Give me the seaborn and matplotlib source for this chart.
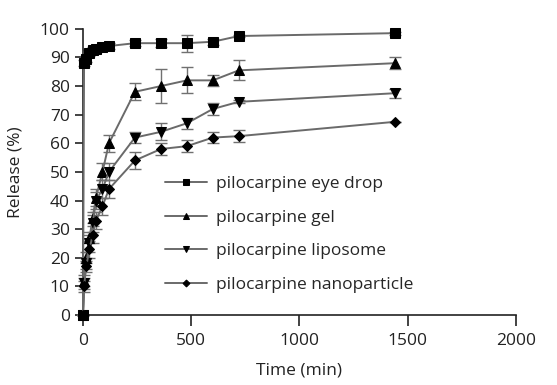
import matplotlib
matplotlib.use("Agg")
import matplotlib.pyplot as plt
import seaborn as sns
import numpy as np

# release data
times = [0, 5, 15, 30, 45, 60, 90, 120, 240, 360, 480, 600, 720, 1440]

eye_drop = [0, 88, 89.5, 91.5, 92.5, 93, 93.5, 94, 95, 95, 95, 95.5, 97.5, 98.5]
eye_drop_err = [0, 1, 1, 1, 1, 1, 1, 1, 1, 1.5, 3, 1, 0.5, 0.5]

gel = [0, 12, 20, 27, 34, 41, 50, 60, 78, 80, 82, 82, 85.5, 88]
gel_err = [0, 2, 2, 2, 2, 3, 3, 3, 3, 6, 4.5, 2, 3.5, 2]

liposome = [0, 11, 18, 25, 32, 40, 44, 50, 62, 64, 67, 72, 74.5, 77.5]
liposome_err = [0, 2, 2, 3, 3, 3, 3, 3, 2, 3, 2, 2, 0.5, 1.5]

nanoparticle = [0, 10, 17, 23, 28, 33, 38, 44, 54, 58, 59, 62, 62.5, 67.5]
nanoparticle_err = [0, 2, 2, 3, 3, 3, 3, 3, 3, 2, 2, 2, 2, 0]

labels = ["pilocarpine eye drop", "pilocarpine gel",
          "pilocarpine liposome", "pilocarpine nanoparticle"]
series = [eye_drop, gel, liposome, nanoparticle]
errors = [eye_drop_err, gel_err, liposome_err, nanoparticle_err]
markers = ["s", "^", "v", "D"]
msizes = [7, 6.5, 6.5, 5]

sns.set_style("ticks")
plt.rcParams["font.family"] = ["Open Sans", "DejaVu Sans"]

fig = plt.figure(figsize=(5.57, 3.85), dpi=100)
ax = fig.add_axes([0.149, 0.182, 0.777, 0.743])

line_col = "#6a6a6a"
for vals, err, lab, mk, ms in zip(series, errors, labels, markers, msizes):
    ax.errorbar(times, vals, yerr=err, fmt="none", ecolor="#707070",
                elinewidth=1, capsize=4, capthick=1, zorder=2, clip_on=False)
    sns.lineplot(x=times, y=vals, ax=ax, color=line_col, linewidth=1.4,
                 marker=mk, markersize=ms, markerfacecolor="black",
                 markeredgecolor="black", label=lab, zorder=3, clip_on=False)

ax.set_xlim(0, 2000)
ax.set_ylim(0, 100)
ax.set_xticks([0, 500, 1000, 1500, 2000])
ax.set_yticks(range(0, 101, 10))
ax.tick_params(labelsize=12.5, length=6, width=1.2, colors="#222222")
ax.tick_params(axis="x", length=8, pad=5)
ax.set_xlabel("Time (min)", fontsize=12.5, color="#222222", labelpad=10)
ax.set_ylabel("Release (%)", fontsize=12.5, color="#222222", labelpad=12)
for s in ["left", "bottom"]:
    ax.spines[s].set_linewidth(1.2)
    ax.spines[s].set_color("#222222")
sns.despine(ax=ax)

ax.legend(loc="upper left", bbox_to_anchor=(0.19, 0.485), frameon=False,
          fontsize=12.5, borderaxespad=0, borderpad=0, handlelength=2.4,
          handletextpad=0.5, labelspacing=1.0, markerscale=0.7)

fig.savefig("out.png", dpi=100)
